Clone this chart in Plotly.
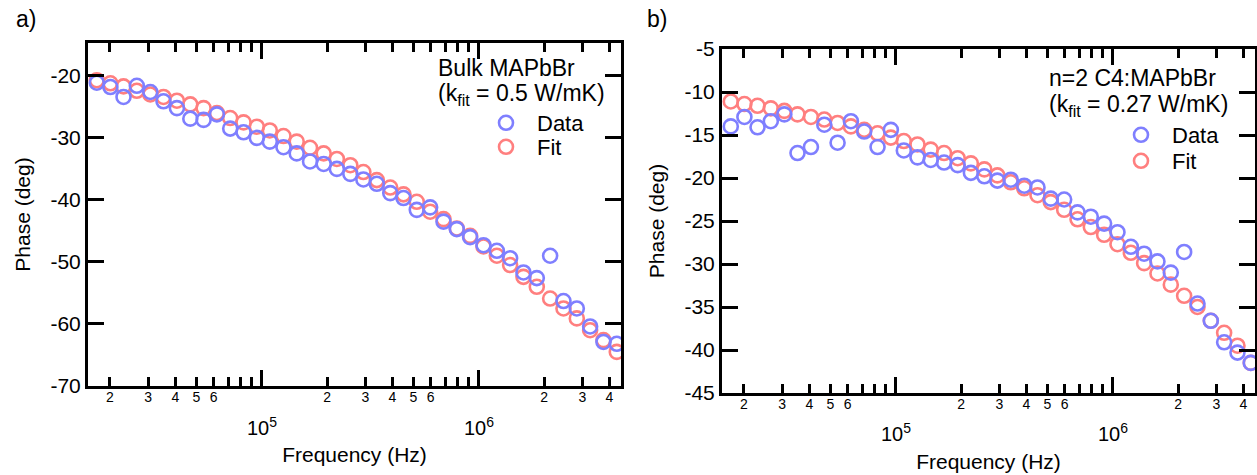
import plotly.graph_objects as go
import math

freq_hz = [17400, 20100, 23100, 26600, 30700, 35300, 40700, 46900, 54000, 62200,
           71600, 82500, 95000, 109000, 126000, 145000, 167000, 193000, 222000, 256000,
           294000, 339000, 391000, 450000, 518000, 597000, 688000, 792000, 912000, 1051000,
           1211000, 1394000, 1606000, 1850000, 2131000, 2455000, 2828000, 3257000, 3752000, 4321000]

bulk_data = [-21.1, -21.8, -23.4, -21.6, -22.6, -24.1, -25.2, -26.9, -27.1, -26.2,
             -28.5, -29.1, -30.0, -30.6, -31.5, -32.5, -33.8, -34.2, -35.0, -35.8,
             -36.7, -37.4, -38.9, -39.7, -41.6, -41.2, -43.5, -44.7, -46.0, -47.3,
             -48.2, -49.4, -51.7, -52.6, -49.0, -56.3, -57.5, -60.4, -62.9, -63.2]
bulk_fit = [-20.7, -21.2, -21.7, -22.4, -23.0, -23.4, -24.0, -24.6, -25.2, -26.0,
            -26.8, -27.5, -28.2, -28.8, -29.7, -30.6, -31.6, -32.5, -33.4, -34.4,
            -35.5, -36.8, -38.0, -39.1, -40.3, -41.9, -43.1, -44.6, -45.8, -47.5,
            -49.0, -50.5, -52.4, -54.0, -55.9, -57.5, -59.1, -61.0, -62.6, -64.5]

c4_data = [-14.0, -12.9, -14.1, -13.4, -12.6, -17.1, -16.4, -13.8, -15.9, -13.4,
           -14.6, -16.4, -14.4, -16.8, -17.6, -17.9, -18.2, -18.5, -19.4, -19.8,
           -20.3, -20.2, -20.9, -21.1, -22.4, -22.5, -24.0, -24.5, -25.3, -26.3,
           -28.0, -28.8, -29.7, -31.0, -28.6, -34.6, -36.6, -39.1, -40.3, -41.5]
c4_fit = [-11.1, -11.4, -11.6, -11.9, -12.2, -12.6, -12.9, -13.2, -13.6, -14.0,
          -14.4, -14.8, -15.3, -15.7, -16.1, -16.7, -17.1, -17.7, -18.3, -19.0,
          -19.7, -20.5, -21.2, -22.0, -22.8, -23.7, -24.8, -25.7, -26.6, -27.7,
          -28.7, -29.9, -31.1, -32.4, -33.7, -35.0, -36.6, -38.0, -39.5, -41.5]

left_yticks = [-70, -60, -50, -40, -30, -20]
right_yticks = [-45, -40, -35, -30, -25, -20, -15, -10, -5]

decades = [1e4, 1e5, 1e6]
minor_mult = [2, 3, 4, 5, 6, 7, 8, 9]
labeled_mult = [2, 3, 4, 5, 6]
major_ticks = [1e5, 1e6]
major_labels = ["10<sup>5</sup>", "10<sup>6</sup>"]
x_max = 4.52e6

minor_vals, minor_text = [], []
for d in decades:
    for m in minor_mult:
        v = m * d
        if v <= x_max:
            minor_vals.append(v)
            minor_text.append(str(m) if m in labeled_mult else " ")

BLUE = "#7f7fff"
RED = "#ff7f7f"
INK = "#000000"
FONT = "Liberation Sans, Arial, sans-serif"
W, H = 1257, 475
XRANGE = [4.2, 6.655]

fig = go.Figure()

def add_pair(xa, ya, data, fit, lg_data, lg_fit):
    fig.add_trace(go.Scatter(x=freq_hz, y=fit, mode="markers", name="Fit",
                             xaxis=xa, yaxis=ya, legend=lg_fit,
                             marker=dict(symbol="circle-open", size=14, color=RED,
                                         line=dict(width=2.6))))
    fig.add_trace(go.Scatter(x=freq_hz, y=data, mode="markers", name="Data",
                             xaxis=xa, yaxis=ya, legend=lg_data,
                             marker=dict(symbol="circle-open", size=14, color=BLUE,
                                         line=dict(width=2.6))))

add_pair("x", "y", bulk_data, bulk_fit, "legend", "legend2")
add_pair("x2", "y2", c4_data, c4_fit, "legend3", "legend4")

def xaxis(domain, anchor):
    return dict(domain=domain, anchor=anchor, type="log", range=XRANGE,
                tickmode="array", tickvals=minor_vals, ticktext=minor_text,
                ticks="inside", ticklen=9, tickwidth=3, tickcolor=INK,
                minor=dict(tickmode="array", tickvals=major_ticks, ticks="inside",
                           ticklen=16, tickwidth=3, tickcolor=INK),
                showline=True, linewidth=3, linecolor=INK, mirror="ticks",
                showgrid=False, zeroline=False, ticklabelstandoff=-4,
                tickfont=dict(size=14, color=INK, family=FONT),
                title=dict(text="Frequency (Hz)", standoff=44,
                           font=dict(size=21, color=INK, family=FONT)))

def yaxis(domain, anchor, rng, tv):
    return dict(domain=domain, anchor=anchor, range=rng, tickmode="array", tickvals=tv,
                ticktext=[str(v) for v in tv],
                ticks="inside", ticklen=16, tickwidth=3, tickcolor=INK,
                showline=True, linewidth=3, linecolor=INK, mirror="ticks",
                showgrid=False, zeroline=False,
                tickfont=dict(size=21, color=INK, family=FONT),
                title=dict(text="Phase (deg)", standoff=15,
                           font=dict(size=21, color=INK, family=FONT)))

def leg(xpx, ypx):
    return dict(x=xpx / W, y=1 - ypx / H, xanchor="left", yanchor="middle",
                bgcolor="rgba(0,0,0,0)", borderwidth=0, itemwidth=52,
                font=dict(size=22, color=INK, family=FONT))

ann = []
def text_ann(txt, xpx, ypx, size, xanchor="left"):
    ann.append(dict(text=txt, x=xpx / W, y=1 - ypx / H, xref="paper", yref="paper",
                    xanchor=xanchor, yanchor="middle", showarrow=False,
                    font=dict(size=size, color=INK, family=FONT)))

text_ann("a)", 14, 19, 23)
text_ann("b)", 645, 19, 23)
text_ann("Bulk MAPbBr", 436, 68, 23)
text_ann("(k<sub>fit</sub> = 0.5 W/mK)", 436, 95, 23)
text_ann("n=2 C4:MAPbBr", 1047, 78, 23)
text_ann("(k<sub>fit</sub> = 0.27 W/mK)", 1047, 105, 23)

for xr, ytop in (("x", 412), ("x2", 418)):
    for v, t in zip(major_ticks, major_labels):
        ann.append(dict(text=t, x=math.log10(v), y=1 - ytop / H, xref=xr, yref="paper",
                        xanchor="center", yanchor="top", showarrow=False,
                        font=dict(size=20, color=INK, family=FONT)))

fig.update_layout(
    width=W, height=H, margin=dict(l=0, r=0, t=0, b=0, autoexpand=False),
    paper_bgcolor="white", plot_bgcolor="white",
    showlegend=True,
    xaxis=xaxis([88 / W, 621 / W], "y"),
    yaxis=yaxis([1 - 386 / H, 1 - 43 / H], "x", [-70, -14.7], left_yticks),
    xaxis2=xaxis([722 / W, 1255 / W], "y2"),
    yaxis2=yaxis([1 - 393 / H, 1 - 49 / H], "x2", [-45, -5], right_yticks),
    legend=leg(475, 123),
    legend2=leg(475, 147),
    legend3=leg(1110, 135),
    legend4=leg(1110, 161),
    annotations=ann,
)

fig.write_html("out.html")
